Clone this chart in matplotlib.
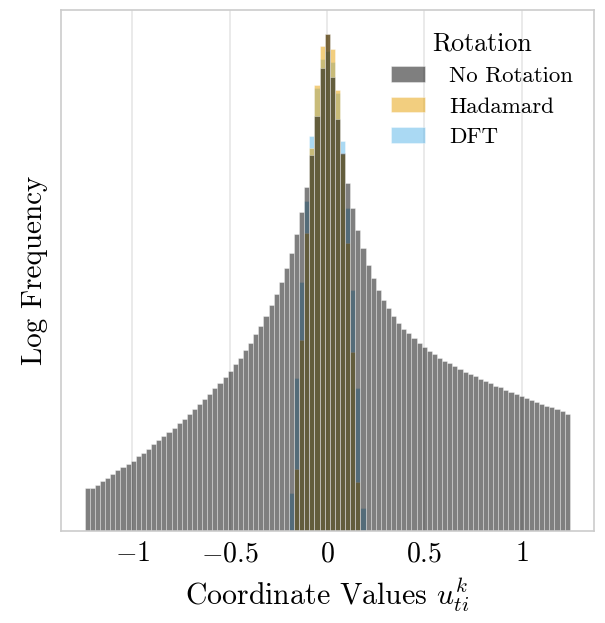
"""
plot.py — Log-frequency histogram of coordinate values under three rotations.

Produces:
    - out.png : overlaid histograms (No Rotation / Hadamard / DFT)
"""

import numpy as np
import matplotlib
matplotlib.use("Agg")
import matplotlib.pyplot as plt
from matplotlib.ticker import NullLocator


# ---------------------------------------------------------------------------
# Data (log10 of bin counts)
# ---------------------------------------------------------------------------

N_BINS = 95
BIN_LO, BIN_HI = -1.245, 1.247

no_rotation_log = [
    0.620, 0.614, 0.663, 0.720, 0.757, 0.814, 0.867, 0.910, 0.957, 1.006,
    1.067, 1.120, 1.171, 1.239, 1.296, 1.353, 1.414, 1.477, 1.543, 1.606,
    1.677, 1.743, 1.817, 1.886, 1.963, 2.039, 2.120, 2.200, 2.291, 2.381,
    2.477, 2.581, 2.691, 2.806, 2.934, 3.067, 3.220, 3.377, 3.553, 3.753,
    3.974, 4.236, 4.549, 4.914, 5.367, 5.924, 6.606, 7.096, 6.486, 5.881,
    5.400, 4.971, 4.606, 4.296, 4.034, 3.796, 3.610, 3.441, 3.300, 3.177,
    3.067, 2.977, 2.891, 2.820, 2.749, 2.686, 2.634, 2.577, 2.529, 2.477,
    2.434, 2.396, 2.353, 2.314, 2.277, 2.243, 2.206, 2.171, 2.139, 2.106,
    2.077, 2.049, 2.020, 1.991, 1.963, 1.929, 1.900, 1.871, 1.843, 1.814,
    1.791, 1.767, 1.743, 1.720, 1.667,
]

# Hadamard occupies bins 41..53, DFT bins 40..54
HADAMARD_FIRST_BIN = 41
hadamard_log = [
    0.891, 2.724, 4.249, 5.463, 6.367, 6.924, 7.096, 6.881, 6.296, 5.377,
    4.114, 2.557, 0.700,
]

DFT_FIRST_BIN = 40
dft_log = [
    0.543, 2.186, 3.557, 4.710, 5.639, 6.320, 6.734, 6.857, 6.700, 6.257,
    5.567, 4.614, 3.439, 2.043, 0.329,
]

labels = ["No Rotation", "Hadamard", "DFT"]
colors = ["black", "#E69F00", "#56B4E9"]
xticks = [-1, -0.5, 0, 0.5, 1]


# ---------------------------------------------------------------------------
# Plot
# ---------------------------------------------------------------------------

def setup_style():
    plt.rcParams.update({
        "font.family": "serif",
        "font.serif": ["cmr10"],
        "mathtext.fontset": "cm",
        "axes.formatter.use_mathtext": True,
        "axes.unicode_minus": True,
    })


def draw_hist(ax, first_bin, log_counts, color, label, edges):
    width = edges[1] - edges[0]
    idx = np.arange(first_bin, first_bin + len(log_counts))
    counts = 10.0 ** np.asarray(log_counts)
    ax.bar(edges[idx], counts - 1, width=width, bottom=1, align="edge",
           color=color, alpha=0.5, edgecolor="white", linewidth=0.5,
           label=label)


def plot_histograms(save_path="out.png"):
    setup_style()
    edges = np.linspace(BIN_LO, BIN_HI, N_BINS + 1)

    fig = plt.figure(figsize=(6.05, 6.23), dpi=100)
    ax = fig.add_axes([0.1, 0.1477, 0.8818, 0.837])

    # drawn bottom-up so "No Rotation" sits on top
    draw_hist(ax, DFT_FIRST_BIN, dft_log, colors[2], labels[2], edges)
    draw_hist(ax, HADAMARD_FIRST_BIN, hadamard_log, colors[1], labels[1], edges)
    draw_hist(ax, 0, no_rotation_log, colors[0], labels[0], edges)

    ax.set_yscale("log")
    ax.set_ylim(1, 10 ** 7.446)
    ax.yaxis.set_major_locator(NullLocator())
    ax.yaxis.set_minor_locator(NullLocator())

    span = BIN_HI - BIN_LO
    ax.set_xlim(BIN_LO - 0.05 * span, BIN_HI + 0.05 * span)
    ax.set_xticks(xticks)
    ax.set_xticklabels([f"${v:g}$" for v in xticks])
    ax.tick_params(axis="x", length=0, pad=7, labelsize=20)

    ax.grid(axis="x", color="#e6e6e6", lw=1.2)
    ax.set_axisbelow(True)
    for sp in ax.spines.values():
        sp.set_color("#cccccc")
        sp.set_linewidth(1.2)

    ax.set_xlabel(r"Coordinate Values $u_{ti}^{k}$", fontsize=21.5, labelpad=7)
    ax.set_ylabel("Log Frequency", fontsize=21, labelpad=9)

    handles, labs = ax.get_legend_handles_labels()
    order = [labs.index(l) for l in labels]
    ax.legend([handles[i] for i in order], [labs[i] for i in order],
              title="Rotation", loc="upper right", frameon=False,
              bbox_to_anchor=(1.0, 0.997),
              fontsize=16.5, title_fontsize=18.7, handlelength=1.48,
              handleheight=0.67, handletextpad=1.05, labelspacing=0.47)

    fig.savefig(save_path, dpi=100)
    plt.close(fig)


if __name__ == "__main__":
    plot_histograms()
